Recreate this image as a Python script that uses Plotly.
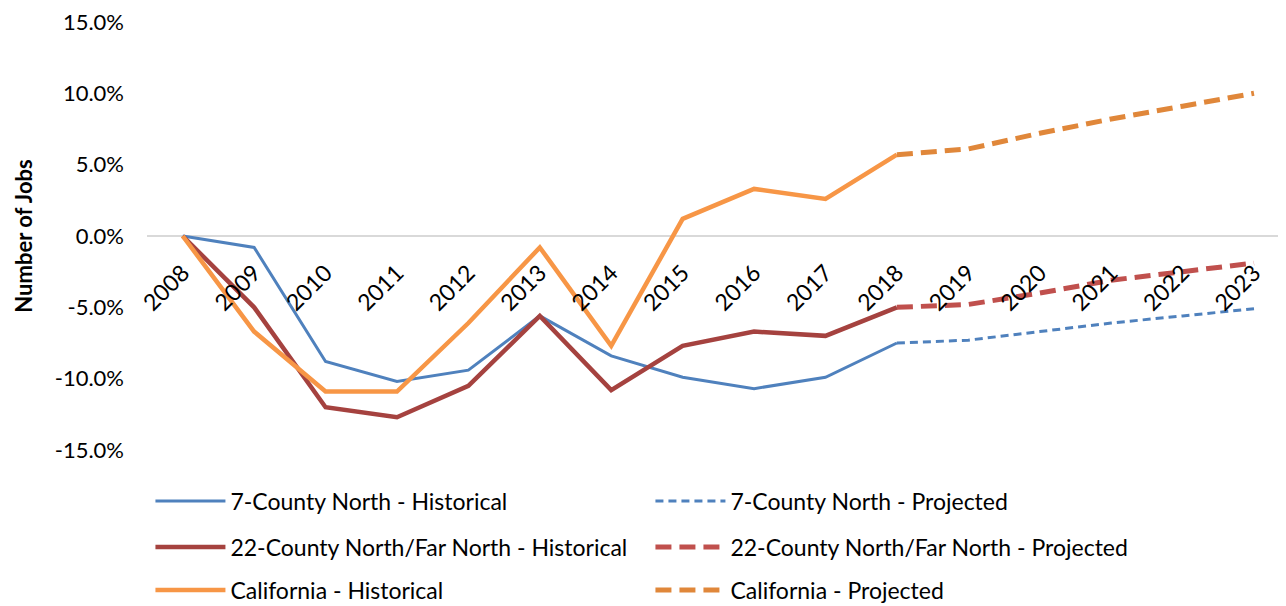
import plotly.graph_objects as go

years = [str(y) for y in range(2008, 2024)]
hist_years = years[:11]          # 2008-2018
proj_years = years[10:]          # 2018-2023

north7_hist = [0.0, -0.8, -8.8, -10.2, -9.4, -5.6, -8.4, -9.9, -10.7, -9.9, -7.5]
north7_proj = [-7.5, -7.3, -6.7, -6.1, -5.6, -5.1]
north22_hist = [0.0, -5.0, -12.0, -12.7, -10.5, -5.6, -10.8, -7.7, -6.7, -7.0, -5.0]
north22_proj = [-5.0, -4.8, -4.0, -3.1, -2.5, -1.9]
ca_hist = [0.0, -6.7, -10.9, -10.9, -6.1, -0.8, -7.7, 1.2, 3.3, 2.6, 5.7]
ca_proj = [5.7, 6.1, 7.2, 8.2, 9.1, 10.0]

y_ticks = [-15, -10, -5, 0, 5, 10, 15]
y_tick_labels = [f"{v:.1f}%" for v in y_ticks]

FONT = "Lato"

fig = go.Figure()
fig.add_trace(go.Scatter(x=hist_years, y=north7_hist, mode="lines",
                         name="7-County North - Historical",
                         line=dict(color="#4F81BD", width=3), legend="legend"))
fig.add_trace(go.Scatter(x=proj_years, y=north7_proj, mode="lines",
                         name="7-County North - Projected",
                         line=dict(color="#4F81BD", width=3, dash="8px,5px"), legend="legend"))
fig.add_trace(go.Scatter(x=hist_years, y=north22_hist, mode="lines",
                         name="22-County North/Far North - Historical",
                         line=dict(color="#A5423F", width=4.5), legend="legend2"))
fig.add_trace(go.Scatter(x=proj_years, y=north22_proj, mode="lines",
                         name="22-County North/Far North - Projected",
                         line=dict(color="#C0504D", width=5, dash="16px,8px"), legend="legend2"))
fig.add_trace(go.Scatter(x=hist_years, y=ca_hist, mode="lines",
                         name="California - Historical",
                         line=dict(color="#F79646", width=4.5), legend="legend3"))
fig.add_trace(go.Scatter(x=proj_years, y=ca_proj, mode="lines",
                         name="California - Projected",
                         line=dict(color="#E0873A", width=5, dash="16px,8px"), legend="legend3"))

leg_common = dict(orientation="h", xanchor="left", yanchor="middle", x=0.003,
                  font=dict(family=FONT, size=23, color="#000000"),
                  itemwidth=70, entrywidth=415, bgcolor="rgba(0,0,0,0)")

fig.update_layout(
    width=1286, height=606,
    margin=dict(l=139, r=0, t=14, b=164, autoexpand=False),
    paper_bgcolor="white", plot_bgcolor="white",
    font=dict(family=FONT, size=20, color="#000000"),
    xaxis=dict(type="category", categoryorder="array", categoryarray=years,
               range=[-0.5, 15.56], anchor="free", position=0.5, automargin=False,
               showgrid=False, showline=False, zeroline=False, ticks="",
               tickangle=-45, ticklabelstandoff=18, ticklabelshift=0,
               ticklabeloverflow="allow",
               tickfont=dict(family=FONT, size=23)),
    yaxis=dict(range=[-15, 15], tickvals=y_ticks, ticktext=y_tick_labels,
               showgrid=False, showline=False, automargin=False,
               zeroline=True, zerolinecolor="#D9D9D9", zerolinewidth=2,
               ticklabelstandoff=22, ticklabeloverflow="allow",
               tickfont=dict(family=FONT, size=22),
               title=dict(text="<b>Number of Jobs</b>", font=dict(family=FONT, size=22),
                          standoff=16)),
    legend=dict(**leg_common, y=-0.119),
    legend2=dict(**leg_common, y=-0.227),
    legend3=dict(**leg_common, y=-0.327),
)

fig.write_html("out.html")
